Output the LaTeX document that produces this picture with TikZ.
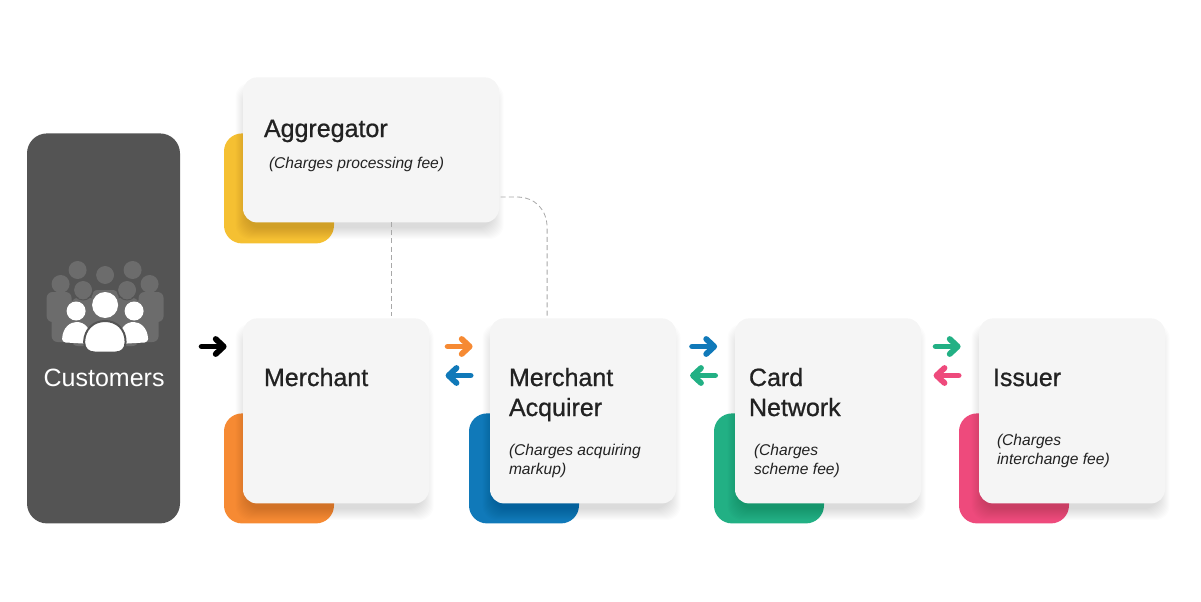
\documentclass[tikz,border=0pt]{standalone}
\usepackage{fontspec}
\setmainfont{Liberation Sans}
\newfontfamily\headfont[FakeBold=0.8]{Liberation Sans}
\usetikzlibrary{arrows.meta}
\definecolor{custgray}{HTML}{545454}
\definecolor{peoplegray}{HTML}{6C6C6C}
\definecolor{cardgray}{HTML}{F5F5F5}
\definecolor{inkgray}{HTML}{222222}
\definecolor{dashgray}{HTML}{A8A8A8}
\definecolor{aggyellow}{HTML}{F5C032}
\definecolor{merorange}{HTML}{F68A33}
\definecolor{acqblue}{HTML}{1079B9}
\definecolor{netgreen}{HTML}{22B084}
\definecolor{isspink}{HTML}{EE4A7C}
\tikzset{
  card/.style={fill=cardgray,rounded corners=7pt,anchor=north west,inner sep=0pt},
  backsq/.style={fill=#1,rounded corners=9pt,anchor=north west,inner sep=0pt,minimum width=55pt,minimum height=55pt},
  headtxt/.style={anchor=base west,inner sep=0pt,text=inkgray,font=\headfont\fontsize{12.5}{15}\selectfont,align=left},
  subtxt/.style={anchor=base west,inner sep=0pt,text=inkgray,font=\itshape\fontsize{7.8}{9.5}\selectfont,align=left},
  dashline/.style={draw=dashgray,line width=0.4pt,dash pattern=on 2.5pt off 1.6pt},
  flow/.style={draw=#1,line width=2.9pt,line cap=round,line join=round,-{Straight Barb[length=4pt,width=7.5pt,round]}},
  dude/.style={fill=peoplegray,rounded corners=3pt}
}
% soft shadow under a card, then the card itself
\newcommand{\card}[5]{
  \foreach \s in {0,...,11}
    \fill[black,opacity=0.012,rounded corners=7pt] (#2-7+\s,#3+6+\s) rectangle (#4+5-\s,#5+17-\s);
  \node[card,minimum width=#4*0.5pt-#2*0.5pt,minimum height=#5*0.5pt-#3*0.5pt] (#1) at (#2,#3) {};
}
\begin{document}
\begin{tikzpicture}[x=0.5pt,y=-0.5pt]
  \useasboundingbox (0,0) rectangle (1201,601);
  \begin{scope}[xshift=-0.2pt]
  % customers
  \node[fill=custgray,rounded corners=10pt,anchor=north west,inner sep=0pt,minimum width=76.5pt,minimum height=195pt] (cust) at (27,133) {};
  \fill[dude] (47,292) rectangle (72,322);
  \fill[dude] (139,292) rectangle (164,322);
  \fill[dude] (52,300) rectangle (76,342);
  \fill[dude] (135,300) rectangle (159,342);
  \fill[dude] (72,298) rectangle (96,346);
  \fill[dude] (115,298) rectangle (139,346);
  \fill[dude] (92,290) rectangle (119,340);
  \foreach \hx/\hy in {78/270,133/270,105.5/275,61/284,150/284,83.5/290,127.5/290}
    \fill[peoplegray] (\hx,\hy) circle (9);
  \foreach \hx/\hy in {83.5/290,127.5/290,105.5/275}
    \draw[custgray,line width=0.5pt] (\hx,\hy) circle (10);
  \fill[white] (76.5,311) circle (9.5);
  \fill[white] (134.5,311) circle (9.5);
  \fill[white] (62.5,339) .. controls (63,327) and (71,322) .. (77,322) .. controls (85,322) and (92,328) .. (92,344) -- (66,342.5) .. controls (64,342) and (62.5,341) .. (62.5,339) -- cycle;
  \fill[white] (148.5,339) .. controls (148,327) and (140,322) .. (134,322) .. controls (126,322) and (119,328) .. (119,344) -- (145,342.5) .. controls (147,342) and (148.5,341) .. (148.5,339) -- cycle;
  \fill[white] (105.5,305) circle (13);
  \draw[custgray,line width=1pt,fill=white] (84.5,342) .. controls (85,329) and (94,321) .. (105.5,321) .. controls (117,321) and (126,329) .. (126,342) .. controls (126,349) and (122,352.5) .. (116,352.5) -- (95,352.5) .. controls (89,352.5) and (84.5,349) .. (84.5,342) -- cycle;
  \node[anchor=base,inner sep=0pt,text=white,font=\fontsize{12.5}{15}\selectfont] (custlabel) at (104.5,386) {Customers};
  % coloured squares behind the cards
  \node[backsq=aggyellow] (aggback) at (224,133) {};
  \node[backsq=merorange] (merback) at (224,413) {};
  \node[backsq=acqblue] (acqback) at (469,413) {};
  \node[backsq=netgreen] (netback) at (714,413) {};
  \node[backsq=isspink] (issback) at (959,413) {};
  % cards
  \card{agg}{243}{77}{499}{222}
  \card{mer}{243}{318}{429}{503}
  \card{acq}{490}{318}{676}{503}
  \card{net}{735}{318}{921}{503}
  \card{iss}{979}{318}{1165}{503}
  % dashed links
  \coordinate (aggdrop) at (391.5,222);
  \coordinate (merdrop) at (391.5,316);
  \coordinate (aggout) at (501,197);
  \coordinate (acqin) at (547.5,316);
  \draw[dashline] (aggdrop) -- (merdrop);
  \draw[dashline] (aggout) -- (517,197) .. controls (536,197) and (547.5,210) .. (547.5,228) -- (acqin);
  % card texts
  \node[headtxt] (aggtitle) at (264,137) {Aggregator};
  \node[subtxt] (aggsub) at (269,168) {(Charges processing fee)};
  \node[headtxt] (mertitle) at (264,386) {Merchant};
  \node[headtxt] (acqtitle) at (509,386) {Merchant};
  \node[headtxt] (acqtitleb) at (509,416) {Acquirer};
  \node[subtxt] (acqsub) at (509,455) {(Charges acquiring};
  \node[subtxt] (acqsubb) at (509,474) {markup)};
  \node[headtxt] (nettitle) at (749,386) {Card};
  \node[headtxt] (nettitleb) at (749,416) {Network};
  \node[subtxt] (netsub) at (754,455) {(Charges};
  \node[subtxt] (netsubb) at (754,474) {scheme fee)};
  \node[headtxt] (isstitle) at (993,386) {Issuer};
  \node[subtxt] (isssub) at (997,445) {(Charges};
  \node[subtxt] (isssubb) at (997,464) {interchange fee)};
  % arrows between the cards
  \coordinate (custout) at (202,346.5);
  \coordinate (merin) at (227,346.5);
  \draw[flow=black] (custout) -- (merin);
  \foreach \ax/\topc/\botc in {448/merorange/acqblue,692.5/acqblue/netgreen,936/netgreen/isspink} {
    \coordinate (outa) at (\ax,346.5);
    \coordinate (outb) at (\ax+25,346.5);
    \coordinate (backa) at (\ax+23,375.5);
    \coordinate (backb) at (\ax-2,375.5);
    \draw[flow=\topc] (outa) -- (outb);
    \draw[flow=\botc] (backa) -- (backb);
  }
  \end{scope}
\end{tikzpicture}
\end{document}
